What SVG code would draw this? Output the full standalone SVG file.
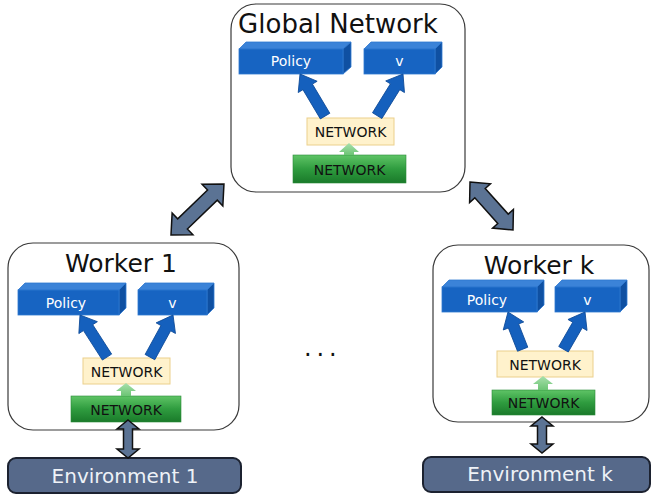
<svg xmlns="http://www.w3.org/2000/svg" width="652" height="495" viewBox="0 0 652 495">
<defs>
<linearGradient id="gr" x1="0" y1="0" x2="0" y2="1">
<stop offset="0" stop-color="#5fc466"/>
<stop offset="0.5" stop-color="#2f9c3f"/>
<stop offset="1" stop-color="#1a7a2a"/>
</linearGradient>
<linearGradient id="ga" x1="0" y1="0" x2="0" y2="1">
<stop offset="0" stop-color="#a8e0ac"/>
<stop offset="1" stop-color="#6cc474"/>
</linearGradient>
<style>
.cont{fill:#fff;stroke:#3a3a3a;stroke-width:1.2}
.ttl{font-family:"DejaVu Sans",sans-serif;fill:#111;text-anchor:middle}
.front{fill:#1764c2;stroke:#2f78d0;stroke-width:0.8}
.top{fill:#3b83d8;stroke:#2f78d0;stroke-width:0.8}
.side{fill:#0f50a2;stroke:#2f78d0;stroke-width:0.8}
.lbl{font-family:"DejaVu Sans",sans-serif;font-size:14px;text-anchor:middle}
.wt{fill:#fff}
.bk{fill:#111}
.yel{fill:#fff2cc;stroke:#ebd08c;stroke-width:1}
.grn{fill:url(#gr);stroke:#2a8a38;stroke-width:0.6}
.barr{fill:#1560bd;stroke:#0d4a98;stroke-width:0.8}
.garr{fill:url(#ga)}
.darr{fill:#5b7394;stroke:#111;stroke-width:1.5;stroke-linejoin:miter}
.env{fill:#56698a;stroke:#1c2230;stroke-width:2}
.envt{font-family:"DejaVu Sans",sans-serif;font-size:20px;fill:#eef2f7;text-anchor:middle}
</style>
</defs>

<g id="global">
<rect class="cont" x="231" y="4" width="234" height="188" rx="25"/>
<text class="ttl" x="338" y="33" font-size="26">Global Network</text>
<g id="global-policy">
<polygon class="top" points="239,49 246,42 351,42 343,49"/>
<polygon class="side" points="343,49 351,42 351,67 343,74"/>
<rect class="front" x="239" y="49" width="104" height="25"/>
<text class="lbl wt" x="291" y="66">Policy</text>
</g>
<g id="global-v">
<polygon class="top" points="364,49 371,42 442,42 435,49"/>
<polygon class="side" points="435,49 442,42 442,67 435,74"/>
<rect class="front" x="364" y="49" width="71" height="25"/>
<text class="lbl wt" x="399.5" y="66">v</text>
</g>
<g id="global-net1">
<rect class="yel" x="307" y="118" width="87" height="27"/>
<text class="lbl bk" x="350.5" y="137">NETWORK</text>
</g>
<g id="global-net0">
<rect class="grn" x="293" y="155" width="113" height="28"/>
<text class="lbl bk" x="349.5" y="175">NETWORK</text>
</g>
</g>

<g id="worker1">
<rect class="cont" x="8" y="243" width="231" height="187" rx="25"/>
<text class="ttl" x="121" y="272" font-size="25">Worker 1</text>
<g id="worker1-policy">
<polygon class="top" points="18,290 25,283 126,283 119,290"/>
<polygon class="side" points="119,290 126,283 126,308 119,315"/>
<rect class="front" x="18" y="290" width="101" height="25"/>
<text class="lbl wt" x="66" y="308">Policy</text>
</g>
<g id="worker1-v">
<polygon class="top" points="138,290 145,283 214,283 207,290"/>
<polygon class="side" points="207,290 214,283 214,308 207,315"/>
<rect class="front" x="138" y="290" width="69" height="25"/>
<text class="lbl wt" x="172.5" y="308">v</text>
</g>
<g id="worker1-net1">
<rect class="yel" x="83" y="358" width="87" height="26"/>
<text class="lbl bk" x="126.5" y="377">NETWORK</text>
</g>
<g id="worker1-net0">
<rect class="grn" x="71" y="396" width="110" height="26"/>
<text class="lbl bk" x="126" y="415">NETWORK</text>
</g>
</g>

<g id="workerk">
<rect class="cont" x="433" y="245" width="216" height="177" rx="25"/>
<text class="ttl" x="539" y="274" font-size="25">Worker k</text>
<g id="workerk-policy">
<polygon class="top" points="442,287 449,280 544,280 537,287"/>
<polygon class="side" points="537,287 544,280 544,305 537,312"/>
<rect class="front" x="442" y="287" width="95" height="25"/>
<text class="lbl wt" x="487" y="305">Policy</text>
</g>
<g id="workerk-v">
<polygon class="top" points="555,287 562,280 627,280 620,287"/>
<polygon class="side" points="620,287 627,280 627,305 620,312"/>
<rect class="front" x="555" y="287" width="65" height="25"/>
<text class="lbl wt" x="587.5" y="305">v</text>
</g>
<g id="workerk-net1">
<rect class="yel" x="497" y="351" width="96" height="26"/>
<text class="lbl bk" x="545" y="370">NETWORK</text>
</g>
<g id="workerk-net0">
<rect class="grn" x="492" y="390" width="103" height="25"/>
<text class="lbl bk" x="543.5" y="408">NETWORK</text>
</g>
</g>

<g id="env1">
<rect class="env" x="8" y="458" width="233" height="35" rx="8"/>
<text class="envt" x="125" y="483">Environment 1</text>
</g>
<g id="envk">
<rect class="env" x="423" y="457" width="227" height="35" rx="8"/>
<text class="envt" x="540" y="481">Environment k</text>
</g>

<text id="dots" x="304" y="356" font-family="DejaVu Sans, sans-serif" font-size="24" letter-spacing="4.9" fill="#111">...</text>

<g id="connectors">
<path class="barr" transform="translate(300,74) rotate(-30.8)" d="M0,0 L11,15 L5.5,15 L5.5,49 L-5.5,49 L-5.5,15 L-11,15 Z"/>
<path class="barr" transform="translate(403,74) rotate(31.8)" d="M0,0 L11,15 L5.5,15 L5.5,49 L-5.5,49 L-5.5,15 L-11,15 Z"/>
<path class="barr" transform="translate(80,315) rotate(-32.7)" d="M0,0 L11,15 L5.5,15 L5.5,50 L-5.5,50 L-5.5,15 L-11,15 Z"/>
<path class="barr" transform="translate(173,315) rotate(28.7)" d="M0,0 L11,15 L5.5,15 L5.5,48 L-5.5,48 L-5.5,15 L-11,15 Z"/>
<path class="barr" transform="translate(508,312) rotate(-21.5)" d="M0,0 L11,15 L5.5,15 L5.5,40 L-5.5,40 L-5.5,15 L-11,15 Z"/>
<path class="barr" transform="translate(585,312) rotate(30)" d="M0,0 L11,15 L5.5,15 L5.5,43 L-5.5,43 L-5.5,15 L-11,15 Z"/>
<path class="garr" d="M349,143 L359,152 L354,152 L354,155 L344,155 L344,152 L339,152 Z"/>
<path class="garr" d="M126,383 L136,391 L131,391 L131,396 L121,396 L121,391 L116,391 Z"/>
<path class="garr" d="M543,376 L553,384 L548,384 L548,390 L538,390 L538,384 L533,384 Z"/>
<path class="darr" transform="translate(171,235) rotate(-43.9)" d="M0,0 L16,-15 L16,-7 L57.5,-7 L57.5,-15 L73.5,0 L57.5,15 L57.5,7 L16,7 L16,15 Z"/>
<path class="darr" transform="translate(470,182) rotate(48.1)" d="M0,0 L15,-14 L15,-7 L49.4,-7 L49.4,-14 L64.4,0 L49.4,14 L49.4,7 L15,7 L15,14 Z"/>
<path class="darr" transform="translate(128,420) rotate(90)" d="M0,0 L9,-11 L9,-4.5 L29,-4.5 L29,-11 L38,0 L29,11 L29,4.5 L9,4.5 L9,11 Z"/>
<path class="darr" transform="translate(542,417) rotate(90)" d="M0,0 L9,-11 L9,-4.5 L27,-4.5 L27,-11 L36,0 L27,11 L27,4.5 L9,4.5 L9,11 Z"/>
</g>
</svg>
